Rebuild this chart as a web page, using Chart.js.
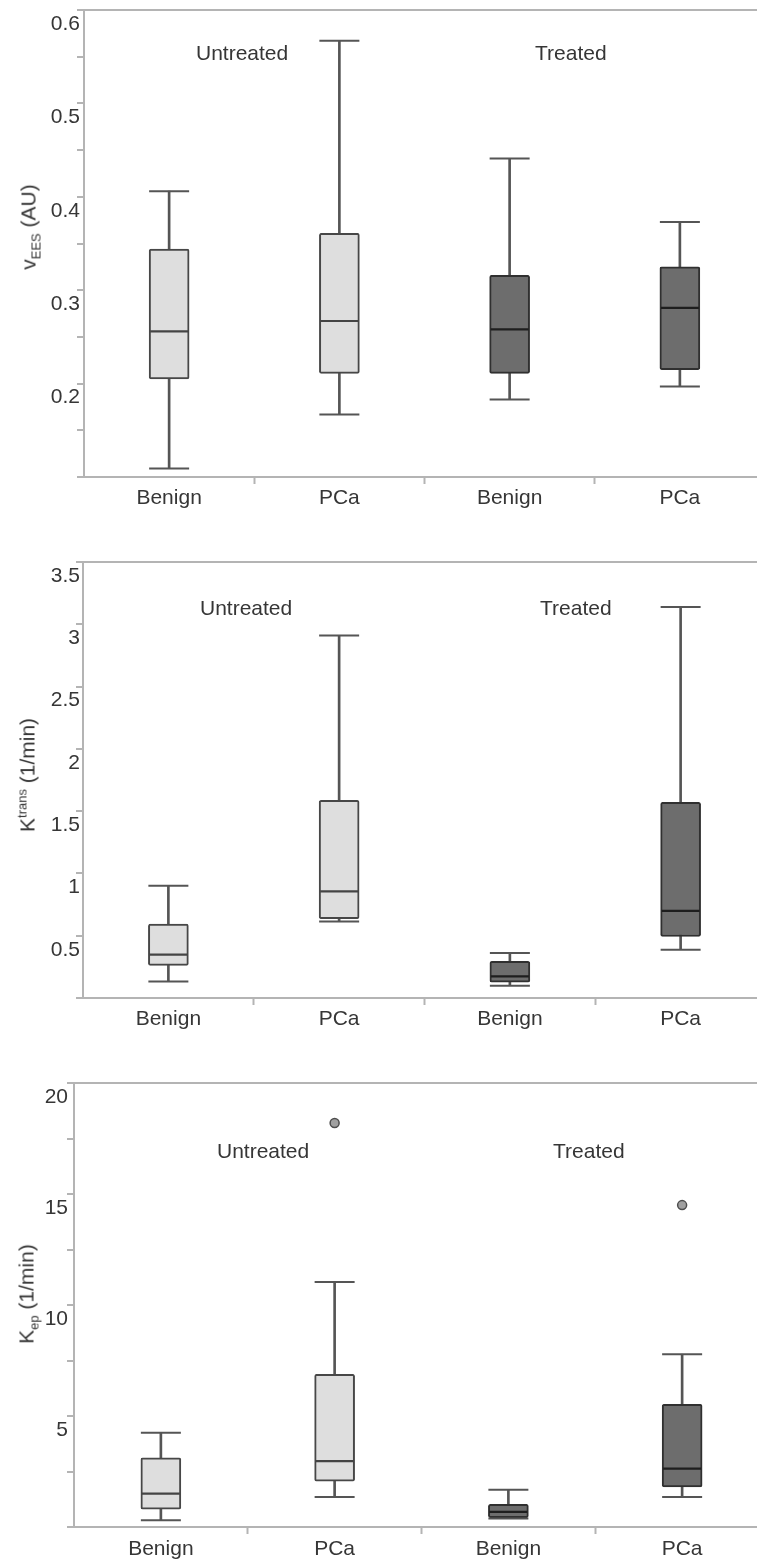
<!DOCTYPE html>
<html>
<head>
<meta charset="utf-8">
<script src="https://cdn.jsdelivr.net/npm/chart.js@4.4.1/dist/chart.umd.min.js"></script>
<style>
html,body{margin:0;padding:0;background:#fff;overflow:hidden;}
#wrap{position:relative;width:757px;height:1564px;overflow:hidden;background:#fff;}
canvas{position:absolute;left:0;}
.ann,.ytitle{position:absolute;font-family:"Liberation Sans",Arial,sans-serif;font-size:21px;color:#363636;white-space:nowrap;line-height:1;}
.ytitle{transform:translate(-50%,-50%) rotate(-90deg);}
.ytitle sub,.ytitle sup{font-size:13px;line-height:0;}
</style>
</head>
<body>
<div id="wrap">
  <canvas id="c1" width="780" height="520" style="top:0;width:780px;height:520px"></canvas>
  <canvas id="c2" width="780" height="520" style="top:520px;width:780px;height:520px"></canvas>
  <canvas id="c3" width="780" height="524" style="top:1040px;width:780px;height:524px"></canvas>

  <div class="ytitle" style="left:28px;top:227px">v<sub>EES</sub> (AU)</div>
  <div class="ytitle" style="left:27px;top:775px">K<sup>trans</sup> (1/min)</div>
  <div class="ytitle" style="left:26px;top:1294px">K<sub>ep</sub> (1/min)</div>

  <div class="ann" style="left:196px;top:42px">Untreated</div>
  <div class="ann" style="left:535px;top:42px">Treated</div>
  <div class="ann" style="left:200px;top:597px">Untreated</div>
  <div class="ann" style="left:540px;top:597px">Treated</div>
  <div class="ann" style="left:217px;top:1140px">Untreated</div>
  <div class="ann" style="left:553px;top:1140px">Treated</div>
</div>
<script>
// ---------- data ----------
const categories = ['Benign', 'PCa', 'Benign', 'PCa'];
const treatment = ['Untreated', 'Untreated', 'Treated', 'Treated'];

// Panel 1: vEES (AU)
const vEesMin    = [0.109, 0.167, 0.183, 0.197];
const vEesQ1     = [0.205, 0.211, 0.211, 0.215];
const vEesMedian = [0.256, 0.267, 0.258, 0.281];
const vEesQ3     = [0.344, 0.361, 0.316, 0.325];
const vEesMax    = [0.406, 0.567, 0.441, 0.373];
const vEesOutliers = [null, null, null, null];
const vEesTickLabels = ['0.2', '0.3', '0.4', '0.5', '0.6'];

// Panel 2: Ktrans (1/min)
const ktransMin    = [0.133, 0.615, 0.099, 0.388];
const ktransQ1     = [0.262, 0.636, 0.128, 0.494];
const ktransMedian = [0.348, 0.856, 0.173, 0.700];
const ktransQ3     = [0.594, 1.586, 0.294, 1.570];
const ktransMax    = [0.901, 2.910, 0.361, 3.138];
const ktransOutliers = [null, null, null, null];
const ktransTickLabels = ['0.5', '1', '1.5', '2', '2.5', '3', '3.5'];

// Panel 3: Kep (1/min)
const kepMin    = [0.30, 1.35, 0.38, 1.35];
const kepQ1     = [0.80, 2.07, 0.42, 1.80];
const kepMedian = [1.50, 2.97, 0.68, 2.63];
const kepQ3     = [3.12, 6.88, 1.02, 5.53];
const kepMax    = [4.25, 11.04, 1.68, 7.78];
const kepOutliers = [null, 18.2, null, 14.5];
const kepTickLabels = ['5', '10', '15', '20'];

// ---------- style ----------
const FONT = '"Liberation Sans", Arial, sans-serif';
const AXIS = '#b4b4b4';
const TEXT = '#363636';
const FILL = { Untreated: '#dedede', Treated: '#6d6d6d' };
const EDGE = { Untreated: '#474747', Treated: '#303030' };
const MED  = { Untreated: '#444444', Treated: '#1e1e1e' };
const WHISK = '#555555';
const CLEAR = 'rgba(0,0,0,0)';

Chart.defaults.font.family = FONT;
Chart.defaults.font.size = 21;
Chart.defaults.color = TEXT;

function boxChart(id, d, layout) {
  const fills = treatment.map(t => FILL[t]);
  const edges = treatment.map(t => EDGE[t]);
  const meds = treatment.map(t => MED[t]);
  const datasets = [
    { type: 'line', label: 'outliers', data: d.outliers, showLine: false,
      pointStyle: 'circle', pointRadius: 4.5, pointBackgroundColor: '#a0a0a0',
      pointBorderColor: '#4d4d4d', pointBorderWidth: 1.5, order: 0 },
    { type: 'line', label: 'median', data: d.median, showLine: false,
      pointStyle: 'line', pointRadius: 19, pointBorderWidth: 2.2,
      pointBorderColor: meds, order: 1 },
    { type: 'line', label: 'max', data: d.max, showLine: false,
      pointStyle: 'line', pointRadius: 20, pointBorderWidth: 2,
      pointBorderColor: WHISK, order: 1 },
    { type: 'line', label: 'min', data: d.min, showLine: false,
      pointStyle: 'line', pointRadius: 20, pointBorderWidth: 2,
      pointBorderColor: WHISK, order: 1 },
    { type: 'bar', label: 'box', data: d.q1.map((q, i) => [q, d.q3[i]]),
      backgroundColor: fills, borderColor: edges, borderWidth: 2,
      borderSkipped: false, borderRadius: 2, barThickness: 40, grouped: false, order: 2 },
    { type: 'bar', label: 'whisker', data: d.min.map((m, i) => [m, d.max[i]]),
      backgroundColor: WHISK, borderWidth: 0, barThickness: 2, grouped: false, order: 3 }
  ];
  return new Chart(document.getElementById(id), {
    type: 'bar',
    data: { labels: categories, datasets },
    options: {
      responsive: false,
      animation: false,
      devicePixelRatio: 1,
      layout: { autoPadding: false, padding: { top: layout.top, right: layout.right, left: 0, bottom: 0 } },
      plugins: { legend: { display: false }, tooltip: { enabled: false } },
      scales: {
        x: {
          type: 'category',
          offset: true,
          grid: {
            offset: true, drawOnChartArea: false, drawTicks: true, tickLength: 7,
            tickWidth: 2, tickColor: ctx => (ctx.index === 0 ? CLEAR : AXIS)
          },
          border: { display: true, color: AXIS, width: 2 },
          ticks: { color: TEXT, font: { size: 21 }, padding: layout.xpad, maxRotation: 0, autoSkip: false },
          afterFit: sc => { sc.height = layout.xh; sc.paddingLeft = 0; sc.paddingRight = 0; }
        },
        y: {
          type: 'linear',
          min: d.yMin, max: d.yMax,
          ticks: {
            stepSize: d.step, maxTicksLimit: 50, autoSkip: false,
            labelOffset: 14, padding: layout.ypad, color: TEXT, font: { size: 21 },
            callback: v => {
              const hit = d.tickLabels.find(t => Math.abs(Number(t) - v) < 1e-9);
              return hit === undefined ? '' : hit;
            }
          },
          grid: {
            drawOnChartArea: true, drawTicks: true, tickLength: 7, tickWidth: 2, tickColor: AXIS,
            lineWidth: 2,
            color: ctx => (ctx.tick && Math.abs(ctx.tick.value - d.yMax) < 1e-9 ? AXIS : CLEAR)
          },
          border: { display: true, color: AXIS, width: 2 },
          afterFit: sc => { sc.width = layout.yw; sc.paddingTop = 0; sc.paddingBottom = 0; }
        }
      }
    }
  });
}

boxChart('c1', {
  min: vEesMin, q1: vEesQ1, median: vEesMedian, q3: vEesQ3, max: vEesMax, outliers: vEesOutliers,
  yMin: 0.1, yMax: 0.6, step: 0.05, tickLabels: vEesTickLabels
}, { top: 10, right: 15, yw: 84, xh: 43, ypad: -3, xpad: 2 });

boxChart('c2', {
  min: ktransMin, q1: ktransQ1, median: ktransMedian, q3: ktransQ3, max: ktransMax, outliers: ktransOutliers,
  yMin: 0, yMax: 3.5, step: 0.5, tickLabels: ktransTickLabels
}, { top: 42, right: 14, yw: 83, xh: 42, ypad: -4, xpad: 2 });

boxChart('c3', {
  min: kepMin, q1: kepQ1, median: kepMedian, q3: kepQ3, max: kepMax, outliers: kepOutliers,
  yMin: 0, yMax: 20, step: 2.5, tickLabels: kepTickLabels
}, { top: 43, right: 11, yw: 74, xh: 37, ypad: -1, xpad: 3 });
</script>
</body>
</html>
